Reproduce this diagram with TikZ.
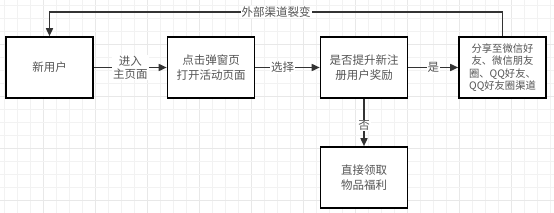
\documentclass[tikz,border=0pt]{standalone}
\usepackage{fontspec}
\setmainfont{Noto Sans CJK SC}
\usetikzlibrary{arrows.meta}
\definecolor{txt}{HTML}{555555}
\definecolor{ln}{HTML}{333333}
\definecolor{gmin}{HTML}{F2F2F2}
\definecolor{gmaj}{HTML}{E8E8E8}
\begin{document}
\begin{tikzpicture}[x=1pt,y=-1pt,
  box/.style={draw=black, line width=1.6pt, fill=white, minimum width=87pt, minimum height=61pt,
    align=center, text=txt, inner sep=0pt, font=\fontsize{11.5}{14.3}\selectfont},
  conn/.style={draw=ln, line width=1.6pt, -{Triangle[length=8pt,width=7pt]}},
  lab/.style={fill=white, text=txt, inner sep=1pt, align=center, font=\fontsize{11.5}{13}\selectfont}]
\fill[white] (0,0) rectangle (554,213);
\useasboundingbox (0,0) rectangle (554,213);
% grid
\foreach \i in {0,...,42} {
  \pgfmathtruncatemacro{\m}{mod(\i+1,4)}
  \ifnum\m=0 \def\gc{gmaj}\else\def\gc{gmin}\fi
  \draw[\gc, line width=0.8pt] ({4+13*\i},0) -- ({4+13*\i},213);
}
\foreach \j in {0,...,16} {
  \pgfmathtruncatemacro{\m}{mod(\j+1,4)}
  \ifnum\m=0 \def\gc{gmaj}\else\def\gc{gmin}\fi
  \draw[\gc, line width=0.8pt] (0,{5+13*\j}) -- (554,{5+13*\j});
}
% boxes
\node[box] (b1) at (49.5,67.5) {新用户};
\node[box] (b2) at (211,67.5) {点击弹窗页\\打开活动页面};
\node[box] (b3) at (364,67.5) {是否提升新注\\册用户奖励};
\node[box, font=\fontsize{10.3}{12.4}\selectfont] (b4) at (502.5,67.5) {分享至微信好\\友、微信朋友\\圈、QQ好友、\\QQ好友圈渠道};
\node[box] (b5) at (364,177.5) {直接领取\\物品福利};
% connectors
\coordinate (t4) at (502.5,12);
\coordinate (t1) at (49.5,12);
\draw[conn] (b4.north) -- (t4) -- node[lab]{外部渠道裂变} (t1) -- (b1.north);
\draw[conn] (b1) -- node[lab]{进入\\主页面} (b2);
\draw[conn] (b2) -- node[lab, xshift=-5pt]{选择} (b3);
\draw[conn] (b3) -- node[lab]{是} (b4);
\draw[conn] (b3) -- node[lab, yshift=-3pt]{否} (b5);
\end{tikzpicture}
\end{document}
